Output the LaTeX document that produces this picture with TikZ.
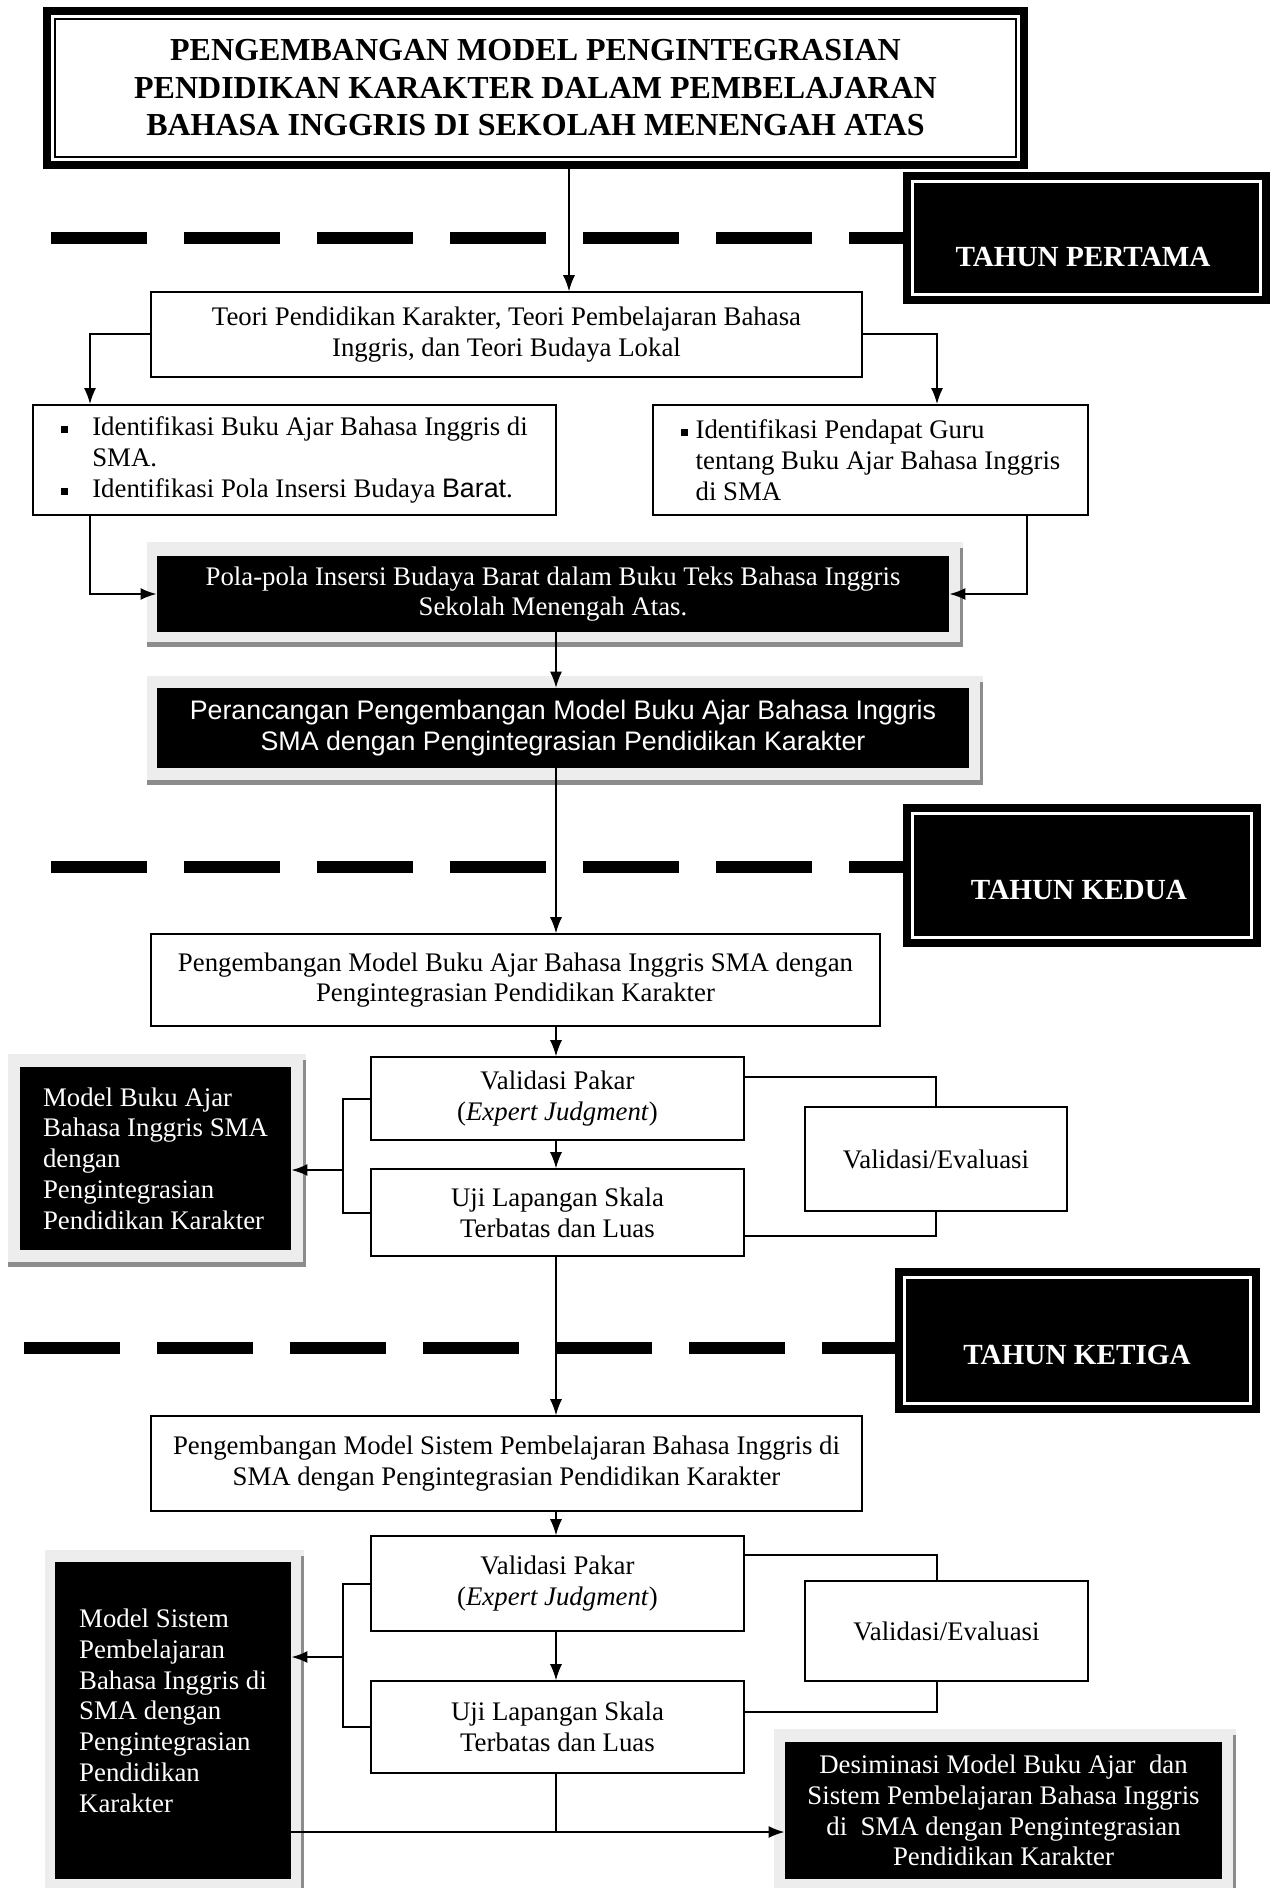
\documentclass[tikz,border=0pt]{standalone}
\usepackage{fontspec}
\setmainfont{Liberation Serif}
\setsansfont{Liberation Sans}
\usetikzlibrary{arrows.meta}

\newcommand{\txtsize}{\fontsize{13.4}{15.4}\selectfont}
\newcommand{\bul}{\rule[1.3pt]{3.5pt}{3.5pt}}

\tikzset{
    title-box/.style = {draw, line width=4pt, fill=white, inner sep=0pt, align=center, font=\fontsize{16}{18.75}\selectfont\bfseries},
    plain-box/.style = {draw, line width=0.8pt, fill=white, inner sep=0pt, align=center, font=\txtsize},
    black-box/.style = {fill=black, text=white, inner sep=0pt, align=center, font=\txtsize},
    year-box/.style = {draw=black, fill=black, line width=4pt, double=white, double distance=1.5pt, inner sep=0pt},
    year-text/.style = {text=white, font=\fontsize{14.6}{17}\selectfont\bfseries},
    phase-line/.style = {line width=6pt, dash pattern=on 48pt off 18.5pt},
    shade-fill/.style = {fill=black!7},
    shade-edge/.style = {fill=black!45},
    arr/.style = {-{Latex[length=8pt,width=6pt]}, line width=0.6pt},
    link/.style = {line width=1pt},
}

\begin{document}
\begin{tikzpicture}[x=0.5pt, y=-0.5pt]
\path[use as bounding box, fill=white] (0,0) rectangle (1273,1888);

% shadows behind the black boxes
\foreach \xa/\ya/\xb/\yb in {147/542/963/647, 147/676/983/785, 8/1054/306/1267, 45/1550/304/1900, 774/1729/1236/1900} {
    \fill[shade-fill] (\xa,\ya) rectangle (\xb,\yb);
    \fill[shade-edge] (\xa,\yb-5) rectangle (\xb,\yb);
    \fill[shade-edge] (\xb-3,\ya+6) rectangle (\xb,\yb);
}

% year separators
\coordinate (ph1) at (51,238);
\coordinate (ph2) at (51,867);
\coordinate (ph3) at (24,1348);

\node[title-box, minimum width=488.5pt, minimum height=77pt] (title) at (535.5,88) {PENGEMBANGAN MODEL PENGINTEGRASIAN\\PENDIDIKAN KARAKTER DALAM PEMBELAJARAN\\BAHASA INGGRIS DI SEKOLAH MENENGAH ATAS};
\draw[line width=0.8pt] ([shift={(12,12)}]title.north west) rectangle ([shift={(-12,-12)}]title.south east);

\node[year-box, minimum width=174pt, minimum height=56.5pt] (pertama) at (1086,238.5) {};
\node[year-box, minimum width=169.5pt, minimum height=62pt] (kedua) at (1081.5,875) {};
\node[year-box, minimum width=173pt, minimum height=63pt] (ketiga) at (1077,1340) {};
\draw[phase-line] (ph1) -- (ph1 -| pertama.west);
\draw[phase-line] (ph2) -- (ph2 -| kedua.west);
\draw[phase-line] (ph3) -- (ph3 -| ketiga.west);
\node[year-text] (pertama-text) at (1083,257) {TAHUN PERTAMA};
\node[year-text] (kedua-text) at (1079,890) {TAHUN KEDUA};
\node[year-text] (ketiga-text) at (1077,1355) {TAHUN KETIGA};

% tahun pertama
\node[plain-box, minimum width=355.5pt, minimum height=42.5pt] (teori) at (506.5,334.5) {Teori Pendidikan Karakter, Teori Pembelajaran Bahasa\\Inggris, dan Teori Budaya Lokal};
\node[plain-box, align=left, minimum width=261.5pt, minimum height=55pt] (identA) at (294.5,460) {\makebox[15.5pt][l]{\bul}Identifikasi Buku Ajar Bahasa Inggris di\\\hspace*{15.5pt}SMA.\\\makebox[15.5pt][l]{\bul}Identifikasi Pola Insersi Budaya {\sffamily Barat}.};
\node[plain-box, align=left, minimum width=217.5pt, minimum height=55pt] (identB) at (870.5,460) {\makebox[7.5pt][l]{\bul}Identifikasi Pendapat Guru\\\hspace*{7.5pt}tentang Buku Ajar Bahasa Inggris\\\hspace*{7.5pt}di SMA};
\node[black-box, minimum width=396pt, minimum height=38pt] (pola) at (553,594) {Pola-pola Insersi Budaya Barat dalam Buku Teks Bahasa Inggris\\Sekolah Menengah Atas.};
\node[black-box, font=\txtsize\sffamily, minimum width=406pt, minimum height=40pt] (peran) at (563,728) {Perancangan Pengembangan Model Buku Ajar Bahasa Inggris\\SMA dengan Pengintegrasian Pendidikan Karakter};

% tahun kedua
\node[plain-box, minimum width=364.5pt, minimum height=46pt] (peng1) at (515.5,980) {Pengembangan Model Buku Ajar Bahasa Inggris SMA dengan\\Pengintegrasian Pendidikan Karakter};
\node[plain-box, minimum width=186.5pt, minimum height=41.5pt] (val1) at (557.5,1098.5) {Validasi Pakar\\(\textit{Expert Judgment})};
\node[plain-box, minimum width=186.5pt, minimum height=43.5pt] (uji1) at (557.5,1212.5) {Uji Lapangan Skala\\Terbatas dan Luas};
\node[plain-box, minimum width=131pt, minimum height=52pt] (eval1) at (936,1159) {Validasi/Evaluasi};
\node[black-box, align=left, minimum width=135.5pt, minimum height=91.5pt] (model1) at (155.5,1158.5) {Model Buku Ajar\\Bahasa Inggris SMA\\dengan\\Pengintegrasian\\Pendidikan Karakter};

% tahun ketiga
\node[plain-box, minimum width=355.5pt, minimum height=47.5pt] (peng2) at (506.5,1463.5) {Pengembangan Model Sistem Pembelajaran Bahasa Inggris di\\SMA dengan Pengintegrasian Pendidikan Karakter};
\node[plain-box, minimum width=186.5pt, minimum height=47.5pt] (val2) at (557.5,1583.5) {Validasi Pakar\\(\textit{Expert Judgment})};
\node[plain-box, minimum width=186.5pt, minimum height=46pt] (uji2) at (557.5,1727) {Uji Lapangan Skala\\Terbatas dan Luas};
\node[plain-box, minimum width=141.5pt, minimum height=50pt] (eval2) at (946.5,1631) {Validasi/Evaluasi};
\node[black-box, align=left, minimum width=118pt, minimum height=158.5pt] (model2) at (173,1720.5) {Model Sistem\\Pembelajaran\\Bahasa Inggris di\\SMA dengan\\Pengintegrasian\\Pendidikan\\Karakter\\[-5.4pt]\mbox{}};
\node[black-box, minimum width=218.5pt, minimum height=68.5pt] (dissem) at (1003.5,1810.5) {Desiminasi Model Buku Ajar\ \ dan\\Sistem Pembelajaran Bahasa Inggris\\di\ \ SMA dengan Pengintegrasian\\Pendidikan Karakter};

% connectors
\coordinate (top) at (569,0);
\coordinate (mid) at (556,0);
\coordinate (bendL) at (90,0);
\coordinate (bendR) at (937,0);
\coordinate (bendB) at (1027,0);
\coordinate (brk1) at (343,1170);
\coordinate (brk2) at (343,1657);
\coordinate (join) at (556,1832);

\draw[arr] (title.south -| top) -- (teori.north -| top);
\draw[arr, link] (teori.west) -| (identA.north -| bendL);
\draw[arr, link] (teori.east) -| (identB.north -| bendR);
\draw[arr, link] (identA.south -| bendL) |- (pola.west);
\draw[arr, link] (identB.south -| bendB) |- (pola.east);
\draw[arr] (pola.south -| mid) -- (peran.north -| mid);
\draw[arr] (peran.south -| mid) -- (peng1.north -| mid);
\draw[arr] (peng1.south -| mid) -- (val1.north -| mid);
\draw[arr] (val1.south -| mid) -- (uji1.north -| mid);
\draw[link] ([yshift=10.75pt]val1.east) -| (eval1.north);
\draw[link] (eval1.south) |- ([yshift=-11.75pt]uji1.east);
\draw[link] (val1.west) -| (brk1) |- (uji1.west);
\draw[arr, link] (brk1) -- (brk1 -| model1.east);

\draw[arr] (uji1.south -| mid) -- (peng2.north -| mid);
\draw[arr] (peng2.south -| mid) -- (val2.north -| mid);
\draw[arr] (val2.south -| mid) -- (uji2.north -| mid);
\draw[link] ([yshift=14.25pt]val2.east) -| (eval2.north -| bendR);
\draw[link] (eval2.south -| bendR) |- ([yshift=7.5pt]uji2.east);
\draw[link] (val2.west) -| (brk2) |- (uji2.west);
\draw[arr, link] (brk2) -- (brk2 -| model2.east);
\draw[link] (uji2.south -| mid) -- (join);
\draw[arr, link] (join -| model2.east) -- (join -| dissem.west);
\end{tikzpicture}
\end{document}
